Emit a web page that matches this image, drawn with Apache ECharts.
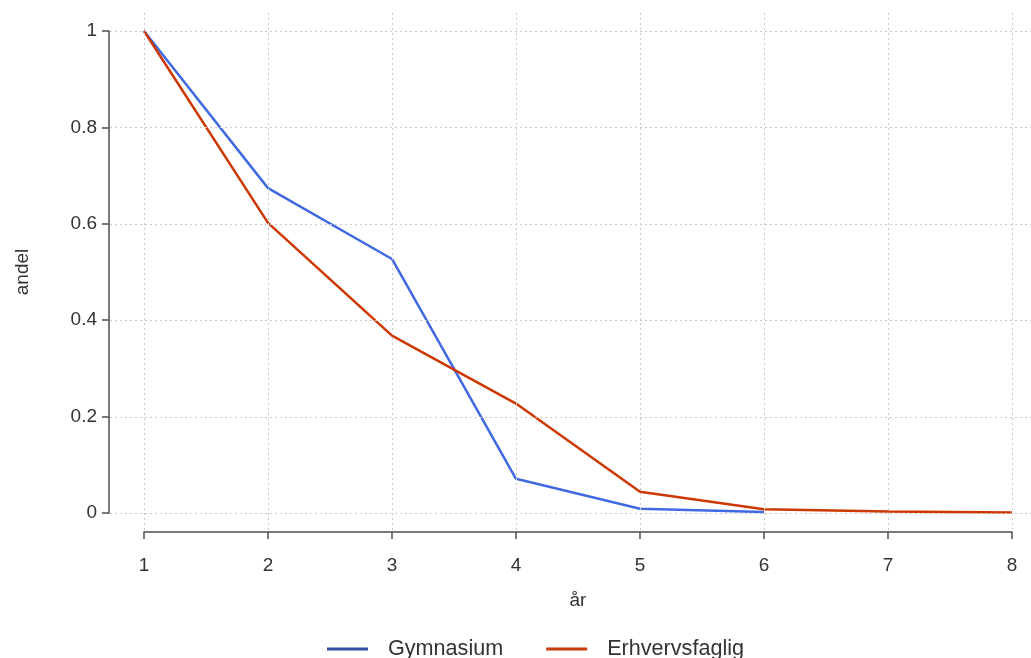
<!DOCTYPE html>
<html>
<head>
<meta charset="utf-8">
<style>
  html, body { margin: 0; padding: 0; background: #ffffff; }
  #chart { width: 1031px; height: 658px; }
</style>
<script src="https://cdn.jsdelivr.net/npm/echarts@6/dist/echarts.min.js"></script>
</head>
<body>
<div id="chart"></div>
<script>
// ---- data ----
const years = [1, 2, 3, 4, 5, 6, 7, 8];
const gymnasium = [1.0, 0.674, 0.527, 0.071, 0.009, 0.002];
const erhvervsfaglig = [1.0, 0.602, 0.368, 0.227, 0.044, 0.008, 0.003, 0.001];
const yTicks = [0, 0.2, 0.4, 0.6, 0.8, 1];
const xTicks = [1, 2, 3, 4, 5, 6, 7, 8];
const seriesNames = ['Gymnasium', 'Erhvervsfaglig'];

const FONT = '"Liberation Sans", Arial, sans-serif';
const TXT = '#333333';
const AXIS = '#4d4d4d';
const GRID = '#c8c8c8';

const pairs = (xs, ys) => ys.map((v, i) => [xs[i], v]);

const chart = echarts.init(document.getElementById('chart'), null, { renderer: 'canvas' });

const gridMarks = []
  .concat(yTicks.map(v => ({ yAxis: v })))
  .concat(xTicks.map(v => ({ xAxis: v })));

chart.setOption({
  animation: false,
  backgroundColor: '#ffffff',
  textStyle: { fontFamily: FONT },
  grid: [
    { left: 144, right: 19, top: 31, bottom: 145, containLabel: false },
    { left: 110, right: 0, top: 10, bottom: 128, containLabel: false }
  ],
  legend: {
    left: 322,
    top: 633,
    itemWidth: 41,
    itemHeight: 3,
    itemGap: 43,
    icon: 'rect',
    textStyle: { fontFamily: FONT, fontSize: 21.6, color: TXT, padding: [0, 0, 0, 15] },
    data: [
      { name: seriesNames[0], itemStyle: { color: '#2f4ea0' } },
      { name: seriesNames[1], itemStyle: { color: '#cd3a0a' } }
    ]
  },
  xAxis: [
    {
      gridIndex: 0,
      type: 'value',
      min: 1, max: 8, interval: 1,
      position: 'bottom',
      offset: 19,
      name: 'år',
      nameLocation: 'middle',
      nameGap: 59,
      nameTextStyle: { fontFamily: FONT, fontSize: 19, color: TXT },
      axisLine: { show: true, onZero: false, lineStyle: { color: AXIS, width: 1.5 } },
      axisTick: { show: true, length: 7, lineStyle: { color: AXIS, width: 1.5 } },
      axisLabel: { margin: 24, fontFamily: FONT, fontSize: 19, color: TXT },
      splitLine: { show: false }
    },
    {
      gridIndex: 1,
      type: 'value',
      min: 1 - 34 / 124, max: 8 + 19 / 124,
      show: false
    }
  ],
  yAxis: [
    {
      gridIndex: 0,
      type: 'value',
      min: 0, max: 1, interval: 0.2,
      position: 'left',
      offset: 35,
      name: 'andel',
      nameLocation: 'middle',
      nameGap: 77,
      nameTextStyle: { fontFamily: FONT, fontSize: 19, color: TXT },
      axisLine: { show: true, onZero: false, lineStyle: { color: AXIS, width: 1.5 } },
      axisTick: { show: true, length: 7, lineStyle: { color: AXIS, width: 1.5 } },
      axisLabel: { margin: 12, fontFamily: FONT, fontSize: 19, color: TXT },
      splitLine: { show: false }
    },
    {
      gridIndex: 1,
      type: 'value',
      min: -16.7 / 482.3, max: 1 + 21 / 482.3,
      show: false
    }
  ],
  series: [
    {
      type: 'line',
      xAxisIndex: 1, yAxisIndex: 1,
      data: [],
      silent: true,
      z: 0,
      markLine: {
        silent: true,
        symbol: ['none', 'none'],
        label: { show: false },
        lineStyle: { color: GRID, width: 1, type: [2, 3] },
        emphasis: { disabled: true },
        data: gridMarks
      }
    },
    {
      name: seriesNames[0],
      type: 'line',
      xAxisIndex: 0, yAxisIndex: 0,
      data: pairs(years, gymnasium),
      showSymbol: false,
      symbol: 'none',
      lineStyle: { color: '#4169e1', width: 2.5 },
      itemStyle: { color: '#4169e1' },
      z: 3
    },
    {
      name: seriesNames[1],
      type: 'line',
      xAxisIndex: 0, yAxisIndex: 0,
      data: pairs(years, erhvervsfaglig),
      showSymbol: false,
      symbol: 'none',
      lineStyle: { color: '#cd3700', width: 2.5 },
      itemStyle: { color: '#cd3700' },
      z: 4
    }
  ]
});
</script>
</body>
</html>
